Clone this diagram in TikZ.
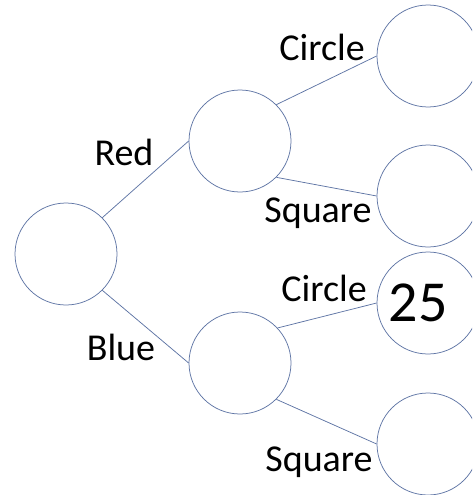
\documentclass[tikz,border=0pt]{standalone}
\usepackage{fontspec}
\setmainfont{Carlito}
\usepackage{tikz}
\definecolor{edgeblue}{RGB}{95,117,165}
\tikzset{
  state/.style={draw=edgeblue, circle, line width=0.75pt,
                minimum size=102pt, inner sep=0pt, font=\fontsize{58}{60}\selectfont},
  lbl/.style  ={font=\fontsize{38}{40}\selectfont, inner sep=0pt},
  branch/.style={draw=edgeblue, line width=0.75pt},
}
\begin{document}
\begin{tikzpicture}[x=1pt, y=-1pt]
  \useasboundingbox (0,0) rectangle (472,495);
  \clip (0,0) rectangle (472,495);

  % states
  \node[state] (root) at (66,254) {};
  \node[state] (red)  at (240,141) {};
  \node[state] (blue) at (240,363) {};
  \node[state] (redcirc)  at (428,56)  {};
  \node[state] (redsq)    at (428,196) {};
  \node[state] (bluecirc) at (428,303) {\hspace{-20pt}25};
  \node[state] (bluesq)   at (428,444) {};

  % branch labels
  \node[lbl] (lred)      at (124,152) {Red};
  \node[lbl] (lblue)     at (121,347) {Blue};
  \node[lbl] (lredcirc)  at (322,47)  {Circle};
  \node[lbl] (lredsq)    at (318,213) {Square};
  \node[lbl] (lbluecirc) at (324,288) {Circle};
  \node[lbl] (lbluesq)   at (319,462) {Square};

  \draw[branch] (root.45)  -- (red.west);
  \draw[branch] (root.-45) -- (blue.west);
  \draw[branch] (red.45)   -- (redcirc.west);
  \draw[branch] (red.-45)  -- (redsq.west);
  \draw[branch] (blue.43)  -- (bluecirc.west);
  \draw[branch] (blue.-45) -- (bluesq.west);
\end{tikzpicture}
\end{document}
